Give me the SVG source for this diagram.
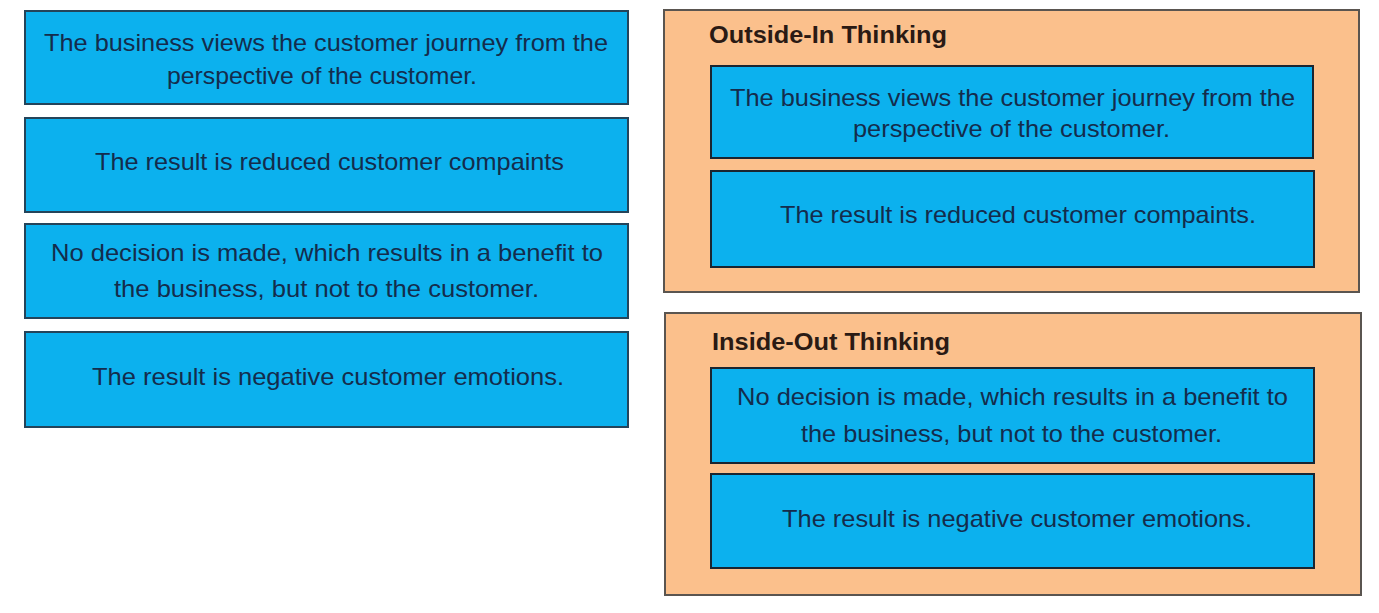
<svg xmlns="http://www.w3.org/2000/svg" width="1379" height="613" viewBox="0 0 1379 613">
<style>
.bg{fill:#ffffff}
.card{fill:#0cb1ee;stroke:#24445a;stroke-width:2}
.icard{fill:#0cb1ee;stroke:#1a2530;stroke-width:2}
.panel{fill:#fbc08c;stroke:#5a5550;stroke-width:2}
.t{font-family:"Liberation Sans",Arial,sans-serif;font-size:24px;fill:#142c4c}
.h{font-family:"Liberation Sans",Arial,sans-serif;font-size:24px;font-weight:bold;fill:#2a1a14}
</style>
<rect class="bg" x="0" y="0" width="1379" height="613"/>
<g id="left-1">
<rect class="card" x="25" y="11" width="603" height="93"/>
<text class="t" x="44" y="51" textLength="564" lengthAdjust="spacingAndGlyphs">The business views the customer journey from the</text>
<text class="t" x="167" y="84" textLength="310" lengthAdjust="spacingAndGlyphs">perspective of the customer.</text>
</g>
<g id="left-2">
<rect class="card" x="25" y="118" width="603" height="94"/>
<text class="t" x="95" y="170" textLength="469" lengthAdjust="spacingAndGlyphs">The result is reduced customer compaints</text>
</g>
<g id="left-3">
<rect class="card" x="25" y="224" width="603" height="94"/>
<text class="t" x="51" y="261" textLength="552" lengthAdjust="spacingAndGlyphs">No decision is made, which results in a benefit to</text>
<text class="t" x="114" y="297" textLength="425" lengthAdjust="spacingAndGlyphs">the business, but not to the customer.</text>
</g>
<g id="left-4">
<rect class="card" x="25" y="332" width="603" height="95"/>
<text class="t" x="92" y="385" textLength="472" lengthAdjust="spacingAndGlyphs">The result is negative customer emotions.</text>
</g>
<g id="outside-in">
<rect class="panel" x="664" y="10" width="695" height="282"/>
<text class="h" x="709" y="43" textLength="238" lengthAdjust="spacingAndGlyphs">Outside-In Thinking</text>
</g>
<g id="outside-in-1">
<rect class="icard" x="711" y="66" width="602" height="92"/>
<text class="t" x="730" y="106" textLength="565" lengthAdjust="spacingAndGlyphs">The business views the customer journey from the</text>
<text class="t" x="853" y="137" textLength="317" lengthAdjust="spacingAndGlyphs">perspective of the customer.</text>
</g>
<g id="outside-in-2">
<rect class="icard" x="711" y="171" width="603" height="96"/>
<text class="t" x="780" y="223" textLength="476" lengthAdjust="spacingAndGlyphs">The result is reduced customer compaints.</text>
</g>
<g id="inside-out">
<rect class="panel" x="665" y="313" width="696" height="282"/>
<text class="h" x="712" y="350" textLength="238" lengthAdjust="spacingAndGlyphs">Inside-Out Thinking</text>
</g>
<g id="inside-out-1">
<rect class="icard" x="711" y="368" width="603" height="95"/>
<text class="t" x="737" y="405" textLength="551" lengthAdjust="spacingAndGlyphs">No decision is made, which results in a benefit to</text>
<text class="t" x="801" y="442" textLength="421" lengthAdjust="spacingAndGlyphs">the business, but not to the customer.</text>
</g>
<g id="inside-out-2">
<rect class="icard" x="711" y="474" width="603" height="94"/>
<text class="t" x="782" y="527" textLength="470" lengthAdjust="spacingAndGlyphs">The result is negative customer emotions.</text>
</g>
<g id="connectors"></g>
</svg>
